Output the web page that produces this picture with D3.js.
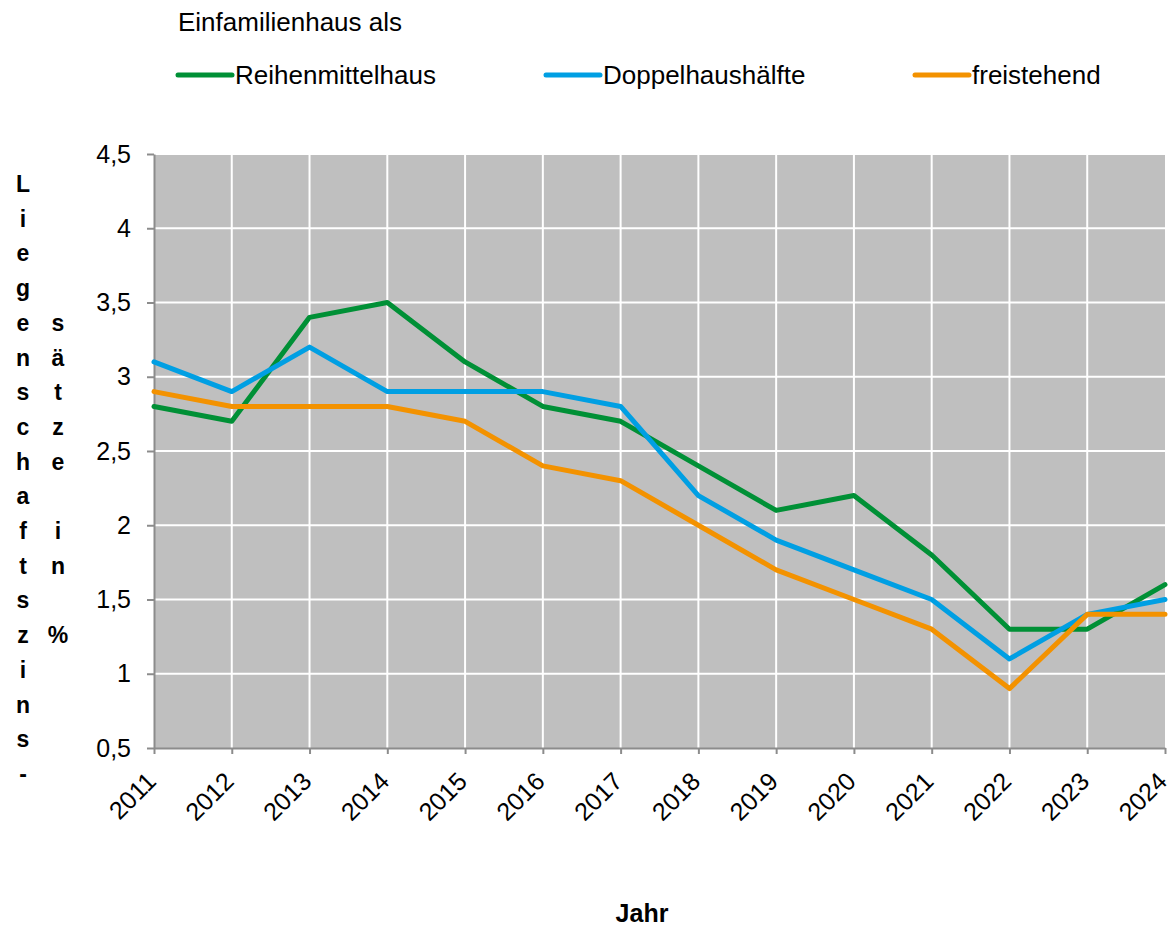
<!DOCTYPE html>
<html>
<head>
<meta charset="utf-8">
<script src="https://cdn.jsdelivr.net/npm/d3@7"></script>
<style>
  body { margin: 0; background: #fff; }
  svg { display: block; font-family: "Liberation Sans", Arial, sans-serif; }
</style>
</head>
<body>
<svg id="chart" width="1174" height="929"></svg>
<script>
const years = [2011,2012,2013,2014,2015,2016,2017,2018,2019,2020,2021,2022,2023,2024];
const reihenmittelhaus = [2.8,2.7,3.4,3.5,3.1,2.8,2.7,2.4,2.1,2.2,1.8,1.3,1.3,1.6];
const doppelhaushaelfte = [3.1,2.9,3.2,2.9,2.9,2.9,2.8,2.2,1.9,1.7,1.5,1.1,1.4,1.5];
const freistehend = [2.9,2.8,2.8,2.8,2.7,2.4,2.3,2.0,1.7,1.5,1.3,0.9,1.4,1.4];
const yTicks = [0.5,1,1.5,2,2.5,3,3.5,4,4.5];
const yTickLabels = ["0,5","1","1,5","2","2,5","3","3,5","4","4,5"];
const seriesNames = ["Reihenmittelhaus","Doppelhaushälfte","freistehend"];
const seriesColors = ["#009036","#009FE3","#F39200"];
const legendTitle = "Einfamilienhaus als";
const xTitle = "Jahr";
const yTitleCol1 = "Liegenschaftszins-";
const yTitleCol2 = "    sätze in %";

const series = [reihenmittelhaus, doppelhaushaelfte, freistehend];

const FS = 25;
const svg = d3.select("#chart");
const pL = 154, pR = 1165, pT = 154, pB = 748;

const x = d3.scaleLinear().domain([2011, 2024]).range([pL, pR]);
const y = d3.scaleLinear().domain([0.5, 4.5]).range([pB, pT]);

// plot background
svg.append("rect").attr("x", pL).attr("y", pT)
  .attr("width", pR - pL).attr("height", pB - pT)
  .attr("fill", "#BFBFBF");

// gridlines
svg.append("g").selectAll("line").data(years.slice(1, -1)).join("line")
  .attr("x1", d => x(d)).attr("x2", d => x(d))
  .attr("y1", pT).attr("y2", pB)
  .attr("stroke", "#fff").attr("stroke-width", 2);
svg.append("g").selectAll("line").data(yTicks.slice(1)).join("line")
  .attr("x1", pL).attr("x2", pR)
  .attr("y1", d => y(d)).attr("y2", d => y(d))
  .attr("stroke", "#fff").attr("stroke-width", 2);

// y axis
const yAxis = d3.axisLeft(y).tickValues(yTicks)
  .tickFormat((d, i) => yTickLabels[i]).tickSize(7).tickSizeOuter(0).tickPadding(16);
const gy = svg.append("g").attr("transform", `translate(${pL},0)`).call(yAxis);
gy.select(".domain").attr("stroke", "#8C8C8C").attr("stroke-width", 2);
gy.selectAll(".tick line").attr("stroke", "#8C8C8C").attr("stroke-width", 2);
gy.selectAll(".tick text").attr("font-size", FS).attr("fill", "#000")
  .attr("font-family", "Liberation Sans, Arial, sans-serif");

// x axis
const xAxis = d3.axisBottom(x).tickValues(years).tickFormat(d => String(d))
  .tickSize(6).tickSizeOuter(0);
const gx = svg.append("g").attr("transform", `translate(0,${pB})`).call(xAxis);
gx.select(".domain").attr("stroke", "#8C8C8C").attr("stroke-width", 2);
gx.selectAll(".tick line").attr("stroke", "#8C8C8C").attr("stroke-width", 2);
gx.selectAll(".tick text").attr("font-size", FS).attr("fill", "#000")
  .attr("font-family", "Liberation Sans, Arial, sans-serif")
  .attr("text-anchor", "end").attr("dy", 0).attr("y", 0)
  .attr("transform", "translate(3,35) rotate(-45)");

// lines
const line = d3.line().x((d, i) => x(years[i])).y(d => y(d));
series.forEach((s, k) => {
  svg.append("path").datum(s).attr("d", line)
    .attr("fill", "none").attr("stroke", seriesColors[k])
    .attr("stroke-width", 5).attr("stroke-linejoin", "round").attr("stroke-linecap", "round");
});

// legend
svg.append("text").attr("x", 178).attr("y", 31).attr("font-size", 26).text(legendTitle);
const legendX = [178, 546, 915];
seriesNames.forEach((n, k) => {
  svg.append("line").attr("x1", legendX[k]).attr("x2", legendX[k] + 54)
    .attr("y1", 75).attr("y2", 75)
    .attr("stroke", seriesColors[k]).attr("stroke-width", 5).attr("stroke-linecap", "round");
  svg.append("text").attr("x", legendX[k] + 57).attr("y", 84).attr("font-size", 26).text(n);
});

// y title (stacked letters)
const rowH = 34.7;
Array.from(yTitleCol1).forEach((c, i) => {
  svg.append("text").attr("x", 23).attr("y", 192 + i * rowH)
    .attr("text-anchor", "middle").attr("font-size", 23).attr("font-weight", "bold").text(c);
});
Array.from(yTitleCol2).forEach((c, i) => {
  if (c === " ") return;
  svg.append("text").attr("x", 58).attr("y", 192 + i * rowH)
    .attr("text-anchor", "middle").attr("font-size", 23).attr("font-weight", "bold").text(c);
});

// x title
svg.append("text").attr("x", 642).attr("y", 922).attr("text-anchor", "middle")
  .attr("font-size", FS).attr("font-weight", "bold").text(xTitle);
</script>
</body>
</html>
